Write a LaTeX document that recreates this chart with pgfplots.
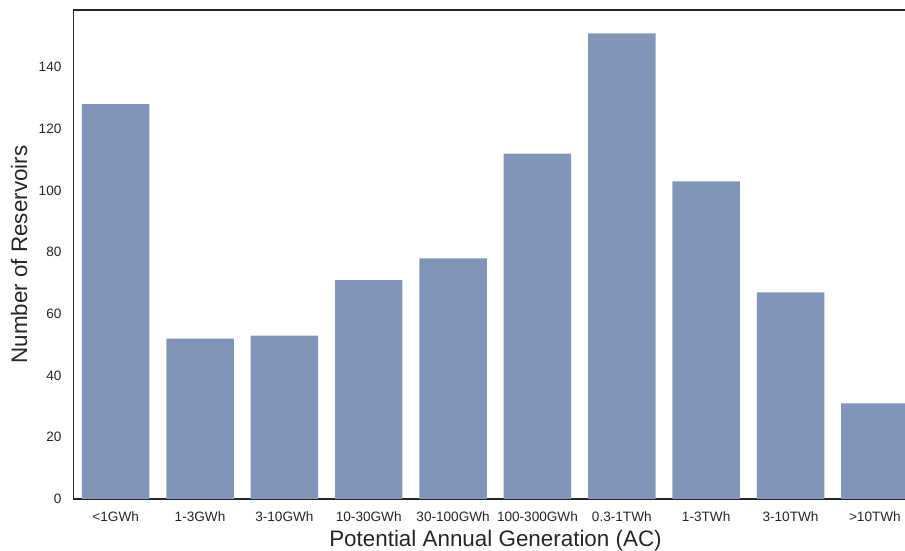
\documentclass[border=0pt]{standalone}
\usepackage{fontspec}
\setmainfont{Liberation Sans}
\usepackage{pgfplots}
\pgfplotsset{compat=1.18}
\definecolor{barc}{RGB}{129,149,185}
\definecolor{spine}{RGB}{38,38,38}
\begin{document}
\begin{tikzpicture}
\path[use as bounding box] (-36.75pt,-26pt) rectangle (415.75pt,249.5pt);
\begin{axis}[
  at={(0pt,0pt)}, anchor=south west,
  scale only axis, width=415.75pt, height=244.5pt,
  xmin=-0.5, xmax=9.357, ymin=0, ymax=158.55,
  ybar, bar width=0.8,
  axis x line*=box, axis y line*=left,
  axis line style={spine, line width=0.75pt},
  xtick={0,...,9},
  xticklabels={<1GWh,1-3GWh,3-10GWh,10-30GWh,30-100GWh,100-300GWh,0.3-1TWh,1-3TWh,3-10TWh,>10TWh},
  ytick={0,20,...,140},
  major tick length=0pt,
  tick label style={font=\fontsize{6.8}{8}\selectfont, text=spine},
  x tick label style={yshift=-2.7pt},
  y tick label style={xshift=-2.5pt},
  /pgf/number format/assume math mode=true,
  xlabel={Potential Annual Generation (AC)},
  ylabel={Number of Reservoirs},
  label style={font=\fontsize{11.2}{13}\selectfont, text=spine},
  xlabel style={at={(axis description cs:0.5075,-0.0975)}, anchor=base},
  ylabel style={at={(axis description cs:-0.0559,0.5)}, anchor=base},
]
\addplot[fill=barc, draw=none] coordinates {
  (0,128) (1,52) (2,53) (3,71) (4,78) (5,112) (6,151) (7,103) (8,67) (9,31)
};
\end{axis}
\end{tikzpicture}
\end{document}
